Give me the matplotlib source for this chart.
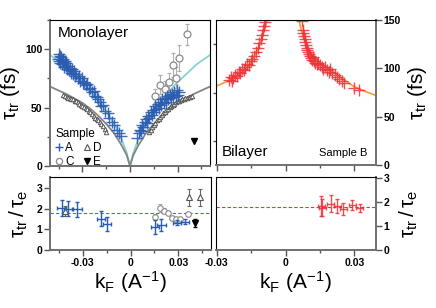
import matplotlib
matplotlib.use("Agg")
import matplotlib.pyplot as plt
from matplotlib.lines import Line2D
from matplotlib.ticker import MultipleLocator

plt.rcParams['font.family'] = ['Liberation Sans', 'DejaVu Sans']
plt.rcParams['mathtext.fontset'] = 'custom'
plt.rcParams['mathtext.rm'] = 'Liberation Sans'
plt.rcParams['mathtext.bf'] = 'Liberation Sans:bold'

# ---- monolayer, tau_tr (fs) ----
# sample A (blue crosses)
a_k = [-0.0455, -0.0450, -0.0447, -0.0443, -0.0440, -0.0436, -0.0432, -0.0428, -0.0425, -0.0420,
       -0.0416, -0.0412, -0.0407, -0.0402, -0.0398, -0.0392, -0.0386, -0.0380, -0.0374, -0.0366,
       -0.0360, -0.0352, -0.0345, -0.0338, -0.0330, -0.0322, -0.0314, -0.0305, -0.0296, -0.0288,
       -0.0280, -0.0270, -0.0260, -0.0250, -0.0240, -0.0230, -0.0220, -0.0210, -0.0200, -0.0190,
       -0.0180, -0.0168, -0.0155, -0.0142, -0.0130, -0.0115, -0.0100, -0.0085, -0.0070, -0.0055,
       0.0045, 0.0055, 0.0062, 0.0070, 0.0078, 0.0085, 0.0092, 0.0100, 0.0108, 0.0115,
       0.0122, 0.0130, 0.0137, 0.0145, 0.0152, 0.0160, 0.0167, 0.0175, 0.0182, 0.0190,
       0.0197, 0.0205, 0.0212, 0.0220, 0.0228, 0.0235, 0.0243, 0.0250, 0.0258, 0.0265,
       0.0273, 0.0280, 0.0288, 0.0295, 0.0303, 0.0310]
a_tau = [92, 96, 90, 94, 88, 93, 91, 87, 92, 89,
         85, 90, 86, 88, 83, 86, 82, 84, 80, 83,
         79, 81, 77, 79, 75, 77, 73, 75, 71, 72,
         69, 70, 66, 67, 63, 64, 60, 59, 57, 55,
         51, 52, 47, 45, 41, 38, 35, 31, 28, 26,
         24, 28, 31, 30, 35, 33, 38, 40, 37, 43,
         41, 46, 44, 48, 46, 51, 49, 53, 50, 55,
         52, 57, 54, 58, 55, 60, 57, 61, 58, 62,
         59, 63, 60, 65, 61, 63]

# sample C (open circles with error bars)
c_k = [0.0155, 0.0190, 0.0220, 0.0245, 0.0289, 0.0270, 0.0310, 0.0360]
c_tau = [60, 69.5, 66, 71.5, 75.5, 86.5, 92.5, 113]
c_err = [6, 8, 7, 8, 9, 10, 11, 9]

# sample D (small open triangles)
d_k = [-0.0420, -0.0410, -0.0400, -0.0390, -0.0380, -0.0370, -0.0360, -0.0350, -0.0340, -0.0330,
       -0.0320, -0.0310, -0.0300, -0.0290, -0.0280, -0.0270, -0.0260, -0.0250, -0.0240, -0.0230,
       -0.0220, -0.0210, -0.0200, -0.0190, -0.0180, -0.0170, -0.0160, -0.0150,
       0.0120, 0.0130, 0.0140, 0.0150, 0.0160, 0.0170, 0.0180, 0.0190, 0.0200, 0.0210,
       0.0220, 0.0230, 0.0240, 0.0250, 0.0260, 0.0270, 0.0280, 0.0290, 0.0300, 0.0310,
       0.0320, 0.0330, 0.0340, 0.0350, 0.0360, 0.0370, 0.0380, 0.0390]
d_tau = [60.5, 60, 59.5, 58.5, 58, 57.5, 57, 56, 55.5, 54.5,
         53.5, 52.5, 51.5, 50.5, 49.5, 48.5, 47.5, 46, 44.5, 43,
         41.5, 40, 39, 37.5, 36, 34, 31.5, 29,
         29, 31, 33, 35, 37, 39, 40.5, 42, 43.5, 45,
         46.5, 48, 49, 50.5, 51.5, 52.5, 53.5, 54.5, 55.5, 56,
         56.5, 57, 57.5, 58, 58.5, 59, 59.5, 60]

# sample E (filled triangle)
e_k = [0.0404]
e_tau = [21]

# model curves
cyan_k = [-0.0505, -0.042, -0.035, -0.0284, -0.02, -0.015, -0.0095, -0.005, -0.002, 0.0,
          0.002, 0.005, 0.0095, 0.015, 0.02, 0.0284, 0.035, 0.042, 0.0505]
cyan_tau = [95, 87, 78, 69.5, 56, 47, 35, 22, 11, 0,
            11, 22, 35, 47, 56, 69.5, 78, 87, 95]
gray_k = [-0.0505, -0.04, -0.03, -0.025, -0.02, -0.015, -0.01, -0.005, -0.002, 0.0,
          0.002, 0.005, 0.01, 0.015, 0.02, 0.025, 0.03, 0.04, 0.0505]
gray_tau = [68, 61.5, 54, 49, 43, 36, 28, 17, 9, 0,
            9, 17, 28, 36, 43, 49, 54, 61.5, 68]

# ---- bilayer, sample B ----
b_k = [-0.0245, -0.0240, -0.0235, -0.0228, -0.0220, -0.0212, -0.0205, -0.0198, -0.0190, -0.0182,
       -0.0175, -0.0168, -0.0160, -0.0152, -0.0145, -0.0138, -0.0130, -0.0122, -0.0115, -0.0109,
       -0.0104, -0.0099, -0.0094, -0.0090,
       0.0072, 0.0075, 0.0078, 0.0080, 0.0083, 0.0086, 0.0089, 0.0092, 0.0095, 0.0098,
       0.0102, 0.0106, 0.0110, 0.0115, 0.0120, 0.0125, 0.0130, 0.0136, 0.0142, 0.0150,
       0.0158, 0.0165, 0.0172, 0.0180, 0.0188, 0.0196, 0.0205, 0.0215, 0.0225, 0.0235,
       0.0245, 0.0255, 0.0300, 0.0320]
b_tau = [88, 91, 87, 90, 93, 92, 96, 95, 99, 98,
         101, 104, 103, 108, 110, 113, 117, 121, 126, 130,
         135, 140, 144, 148,
         149, 140, 137, 133, 130, 127, 124, 121, 119, 117,
         115, 113, 111, 109, 112, 108, 106, 104, 106, 103,
         101, 99, 101, 98, 96, 99, 95, 93, 91, 89,
         87, 85, 80, 78]
orange_k = [-0.0304, -0.025, -0.02, -0.016, -0.013, -0.011, -0.0095, -0.0085, -0.0076, None,
            0.0058, 0.0065, 0.0075, 0.009, 0.011, 0.015, 0.02, 0.025, 0.03, 0.035, 0.0394]
orange_tau = [81.4, 87, 94, 103, 115, 126, 138, 146, 152, None,
              152, 143, 135, 124, 115, 106, 98, 89, 81, 76, 72]

# ---- tau_tr / tau_e ----
ra_k = [-0.0432, -0.0390, -0.0333, -0.0185, -0.0147, 0.0152, 0.0194, 0.0290, 0.0341]
ra_val = [2.03, 2.0, 1.97, 1.52, 1.25, 1.1, 1.22, 1.33, 1.38]
ra_err = [0.38, 0.35, 0.35, 0.35, 0.35, 0.33, 0.3, 0.12, 0.12]
rc_k = [0.0152, 0.0185, 0.0210, 0.0236, 0.0263, 0.0284, 0.0312, 0.0362]
rc_val = [1.62, 2.02, 1.89, 1.78, 1.57, 1.48, 1.49, 1.75]
rc_err = [0.1, 0.2, 0.12, 0.1, 0.1, 0.1, 0.1, 0.1]
rd_k = [-0.0410, 0.0365, 0.0438]
rd_val = [1.9, 2.55, 2.55]
rd_err = [0.25, 0.42, 0.42]
re_k = [0.0404]
re_val = [1.3]
re_err = [0.18]
rb_k = [0.0155, 0.0160, 0.0196, 0.0225, 0.0251, 0.0290, 0.0323]
rb_val = [1.85, 1.78, 1.94, 1.85, 1.72, 1.88, 1.76]
rb_err = [0.42, 0.35, 0.35, 0.3, 0.25, 0.2, 0.15]
mono_mean = 1.78
bi_mean = 1.82

blue = '#2a5cb0'
red = '#ee3039'
gray = '#8a8a8a'

fig = plt.figure(figsize=(4.36, 3.08), dpi=100)
ax1 = fig.add_axes([50/436, 1-166/308, 160/436, 146/308])
ax2 = fig.add_axes([215.7/436, 1-165/308, 160/436, 145/308])
ax3 = fig.add_axes([50/436, 1-250/308, 161/436, 73.3/308])
ax4 = fig.add_axes([215.7/436, 1-250/308, 160.3/436, 72.7/308])


def style(ax, side):
    for s in ax.spines.values():
        s.set_linewidth(0.8)
        s.set_color('black')
    for s in ['bottom', side]:
        ax.spines[s].set_color('#707070')
        ax.spines[s].set_linewidth(1.4)
    ax.tick_params(which='both', direction='out', color='#555555', width=1,
                   labelsize=7.5, pad=1.5)
    ax.tick_params(which='major', length=4)
    ax.tick_params(which='minor', length=2.5)
    ax.tick_params(top=False, left=(side == 'left'), right=(side == 'right'),
                   labelleft=(side == 'left'), labelright=(side == 'right'))


# monolayer panel
ax1.plot(cyan_k, cyan_tau, color='#86d3d0', lw=1.3, zorder=1)
ax1.plot(gray_k, gray_tau, color='#858585', lw=1.3, zorder=1)
ax1.plot(d_k, d_tau, ls='none', marker='^', ms=3.2, mfc='white', mec='#555555', mew=0.7, zorder=2)
ax1.errorbar(c_k, c_tau, yerr=c_err, fmt='o', ms=5, mfc='white', mec=gray, mew=0.9,
             ecolor='#b0b0b0', elinewidth=0.8, capsize=1.5, zorder=2)
ax1.plot(a_k, a_tau, ls='none', marker='+', ms=9, mew=1.0, color=blue, alpha=0.9, zorder=3)
ax1.plot(e_k, e_tau, ls='none', marker='v', ms=5, color='black', zorder=3)
ax1.set_xlim(-0.0505, 0.0505)
ax1.set_ylim(0, 125)
ax1.xaxis.set_major_locator(MultipleLocator(0.03))
ax1.xaxis.set_minor_locator(MultipleLocator(0.015))
ax1.set_yticks([0, 50, 100])
ax1.yaxis.set_minor_locator(MultipleLocator(25))
ax1.set_xticklabels([])
style(ax1, 'left')
ax1.text(0.05, 0.96, 'Monolayer', transform=ax1.transAxes, fontsize=11, va='top', ha='left')
ax1.set_ylabel(r'$\mathregular{\tau_{tr}}$ (fs)', fontsize=15, labelpad=2)

handles = [Line2D([], [], ls='none', marker='+', ms=6, mew=1, color=blue),
           Line2D([], [], ls='none', marker='o', ms=4.5, mfc='white', mec=gray, mew=0.9),
           Line2D([], [], ls='none', marker='^', ms=4.5, mfc='white', mec='#555555', mew=0.8),
           Line2D([], [], ls='none', marker='v', ms=4.5, color='black')]
leg = ax1.legend(handles, ['A', 'C', 'D', 'E'], ncol=2, title='Sample', loc='lower left',
                 bbox_to_anchor=(-0.02, -0.07), frameon=False, fontsize=8.5, title_fontsize=8.5,
                 handlelength=0.7, handletextpad=0.15, columnspacing=0.8, labelspacing=0.15,
                 borderpad=0.2)
leg._legend_box.align = 'left'

# bilayer panel
ax2.plot(orange_k, orange_tau, color='#f0a033', lw=1.2, zorder=1)
ax2.plot(b_k, b_tau, ls='none', marker='+', ms=9, mew=1.0, color=red, alpha=0.85, zorder=2)
ax2.set_xlim(-0.0305, 0.0394)
ax2.set_ylim(0, 150)
ax2.xaxis.set_major_locator(MultipleLocator(0.03))
ax2.xaxis.set_minor_locator(MultipleLocator(0.015))
ax2.set_yticks([0, 50, 100, 150])
ax2.yaxis.set_minor_locator(MultipleLocator(25))
ax2.set_xticklabels([])
style(ax2, 'right')
ax2.yaxis.set_label_position('right')
ax2.set_ylabel(r'$\mathregular{\tau_{tr}}$ (fs)', fontsize=15, labelpad=4)
ax2.text(0.04, 0.04, 'Bilayer', transform=ax2.transAxes, fontsize=11, va='bottom', ha='left')
ax2.text(0.95, 0.05, 'Sample B', transform=ax2.transAxes, fontsize=8, va='bottom', ha='right')

# ratio, monolayer
ax3.axhline(mono_mean, color='#4d70b8', lw=0.8, ls=(0, (3, 2)), zorder=1)
ax3.errorbar(rd_k, rd_val, yerr=rd_err, fmt='^', ms=5, mfc='white', mec='#555555', mew=0.8,
             ecolor='#666666', elinewidth=0.8, capsize=1.5, zorder=2)
ax3.errorbar(rc_k, rc_val, yerr=rc_err, fmt='o', ms=4, mfc='white', mec=gray, mew=0.8,
             ecolor='#aaaaaa', elinewidth=0.8, capsize=1.5, zorder=2)
ax3.errorbar(ra_k, ra_val, yerr=ra_err, xerr=0.0026, fmt='none', ecolor=blue,
             elinewidth=1.0, capsize=1.5, zorder=3)
ax3.errorbar(re_k, re_val, yerr=re_err, fmt='v', ms=4.5, color='black',
             elinewidth=0.8, capsize=1.5, zorder=3)
ax3.set_xlim(-0.0505, 0.0505)
ax3.set_ylim(0, 3.55)
ax3.set_xticks([-0.03, 0, 0.03])
ax3.set_xticklabels(['-0.03', '0', '0.03'])
ax3.xaxis.set_minor_locator(MultipleLocator(0.015))
ax3.set_yticks([0, 1, 2, 3])
style(ax3, 'left')
ax3.set_ylabel(r'$\mathregular{\tau_{tr}\,/\,\tau_e}$', fontsize=15, labelpad=5)
ax3.set_xlabel(r'$\mathregular{k_F\ (A^{-1})}$', fontsize=15, labelpad=1)

# ratio, bilayer
ax4.axhline(bi_mean, color=red, lw=0.8, ls=(0, (3, 2)), zorder=1)
ax4.errorbar(rb_k, rb_val, yerr=rb_err, xerr=0.0015, fmt='none', ecolor=red, alpha=0.85,
             elinewidth=1.0, capsize=1.5, zorder=2)
ax4.set_xlim(-0.0305, 0.0394)
ax4.set_ylim(0, 3.05)
ax4.set_xticks([-0.03, 0, 0.03])
ax4.set_xticklabels(['-0.03', '0', '0.03'])
ax4.xaxis.set_minor_locator(MultipleLocator(0.015))
ax4.set_yticks([0, 1, 2, 3])
style(ax4, 'right')
ax4.yaxis.set_label_position('right')
ax4.set_ylabel(r'$\mathregular{\tau_{tr}\,/\,\tau_e}$', fontsize=15, labelpad=6)
ax4.set_xlabel(r'$\mathregular{k_F\ (A^{-1})}$', fontsize=15, labelpad=1)

# bold tick labels, as in the original figure
for ax in [ax1, ax2, ax3, ax4]:
    for lab in ax.get_xticklabels() + ax.get_yticklabels():
        lab.set_fontweight('bold')

fig.savefig('out.png', dpi=100)
